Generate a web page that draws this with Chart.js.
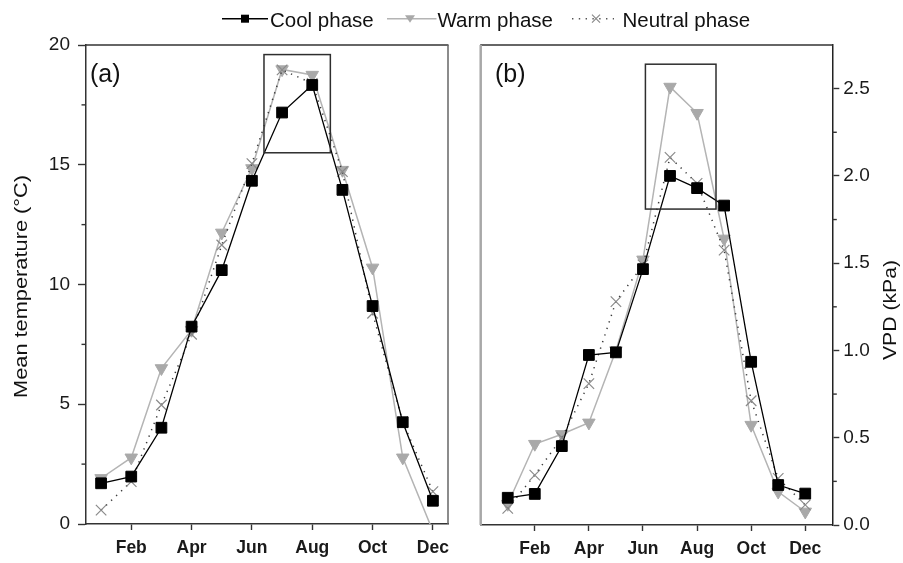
<!DOCTYPE html>
<html>
<head>
<meta charset="utf-8">
<script src="https://cdn.jsdelivr.net/npm/chart.js@4.4.1/dist/chart.umd.min.js"></script>
<style>
  html, body { margin: 0; padding: 0; background: #fff; }
  #wrap { position: relative; width: 903px; height: 563px; overflow: hidden; background: #fff; }
  #ca { position: absolute; left: 0; top: 0; }
  #cb { position: absolute; left: 460px; top: 0; }
  #legend { position: absolute; left: 0; top: 0; }
</style>
</head>
<body>
<div id="wrap">
  <canvas id="ca" width="460" height="563"></canvas>
  <canvas id="cb" width="443" height="563"></canvas>
  <svg id="legend" width="903" height="40" xmlns="http://www.w3.org/2000/svg"></svg>
</div>
<script>
// ---- data ----
const months = [1, 2, 3, 4, 5, 6, 7, 8, 9, 10, 11, 12];
const monthNames = ['Jan', 'Feb', 'Mar', 'Apr', 'May', 'Jun', 'Jul', 'Aug', 'Sep', 'Oct', 'Nov', 'Dec'];
const labeledMonths = [2, 4, 6, 8, 10, 12];
const seriesNames = ['Cool phase', 'Warm phase', 'Neutral phase'];

// (a) mean temperature, °C
const tempCool    = [1.70, 1.98, 4.02, 8.24, 10.6, 14.33, 17.18, 18.33, 13.95, 9.10, 4.25, 0.97];
const tempWarm    = [1.91, 2.77, 6.50, 8.10, 12.16, 14.85, 18.98, 18.75, 14.78, 10.70, 2.77, -0.30];
const tempNeutral = [0.58, 1.77, 4.97, 7.92, 11.65, 15.05, 18.96, 18.40, 14.71, 8.80, 4.27, 1.35];

// (b) vapour pressure deficit, kPa
const vpdCool    = [0.156, 0.178, 0.452, 0.974, 0.989, 1.466, 2.00, 1.93, 1.83, 0.935, 0.229, 0.18];
const vpdWarm    = [0.12, 0.464, 0.52, 0.586, 1.00, 1.52, 2.51, 2.36, 1.64, 0.573, 0.19, 0.076];
const vpdNeutral = [0.095, 0.286, 0.50, 0.81, 1.28, 1.49, 2.106, 1.957, 1.575, 0.712, 0.267, 0.115];

// highlighted summer windows (month range, value range)
const boxA = { x0: 6.4, x1: 8.6, y0: 15.5, y1: 19.6 };
const boxB = { x0: 6.09, x1: 8.70, y0: 1.81, y1: 2.64 };

// ---- styles ----
const FONT = "'Liberation Sans', Arial, Helvetica, sans-serif";
const styles = {
  cool:    { line: '#000000', fill: '#000000' },
  warm:    { line: '#b4b4b4', fill: '#a9a9a9' },
  neutral: { line: '#3a3a3a', fill: '#8a8a8a' }
};

Chart.defaults.font.family = FONT;
Chart.defaults.color = '#1a1a1a';

function pts(values) {
  return months.map((m, i) => ({ x: m, y: values[i] }));
}

function makeDatasets(cool, warm, neutral) {
  return [
    {
      label: seriesNames[0], data: pts(cool), order: 0,
      borderColor: styles.cool.line, borderWidth: 1.3,
      pointStyle: 'rect', pointRadius: 7.6,
      pointBackgroundColor: styles.cool.fill, pointBorderColor: styles.cool.fill, pointBorderWidth: 1,
      tension: 0, clip: 0
    },
    {
      label: seriesNames[1], data: pts(warm), order: 2,
      borderColor: styles.warm.line, borderWidth: 1.5,
      pointStyle: 'triangle', pointRotation: 180, pointRadius: 7.2,
      pointBackgroundColor: styles.warm.fill, pointBorderColor: styles.warm.fill, pointBorderWidth: 1,
      tension: 0, clip: 0
    },
    {
      label: seriesNames[2], data: pts(neutral), order: 1,
      borderColor: styles.neutral.line, borderWidth: 1.5, borderDash: [1.3, 5.6],
      pointStyle: 'crossRot', pointRadius: 7.4,
      pointBackgroundColor: styles.neutral.fill, pointBorderColor: styles.neutral.fill, pointBorderWidth: 1.2,
      tension: 0, clip: 0
    }
  ];
}

// frame, minor ticks, highlight box, panel tag and rotated axis title
function panelPlugin(cfg) {
  return {
    id: 'panelDecor_' + cfg.tag,
    afterDraw(chart) {
      const { ctx, chartArea: a, scales } = chart;
      const xs = scales.x, ys = scales.y;
      ctx.save();
      // frame sides not drawn by the axes
      cfg.sides.forEach(s => {
        ctx.beginPath();
        ctx.strokeStyle = s.color;
        ctx.lineWidth = s.width;
        if (s.side === 'top') { ctx.moveTo(a.left - 0.5, a.top); ctx.lineTo(a.right + 0.5, a.top); }
        if (s.side === 'right') { ctx.moveTo(a.right, a.top); ctx.lineTo(a.right, a.bottom); }
        if (s.side === 'left') { ctx.moveTo(a.left, a.top); ctx.lineTo(a.left, a.bottom); }
        ctx.stroke();
      });
      // minor ticks
      ctx.strokeStyle = '#333';
      ctx.lineWidth = 1.4;
      ys.ticks.forEach(t => {
        if (cfg.isMajor(t.value) || t.value >= ys.max) return;
        const py = ys.getPixelForValue(t.value);
        ctx.beginPath();
        if (cfg.yRight) { ctx.moveTo(a.right, py); ctx.lineTo(a.right + 4.5, py); }
        else { ctx.moveTo(a.left, py); ctx.lineTo(a.left - 4.5, py); }
        ctx.stroke();
      });
      // highlighted window
      const b = cfg.box;
      const bx0 = xs.getPixelForValue(b.x0), bx1 = xs.getPixelForValue(b.x1);
      const by0 = ys.getPixelForValue(b.y0), by1 = ys.getPixelForValue(b.y1);
      ctx.strokeStyle = '#2e2e2e';
      ctx.lineWidth = 1.5;
      ctx.strokeRect(bx0, by1, bx1 - bx0, by0 - by1);
      // panel tag
      ctx.fillStyle = '#111';
      ctx.font = '25px ' + FONT;
      ctx.textAlign = 'left';
      ctx.textBaseline = 'alphabetic';
      ctx.fillText(cfg.tag, cfg.tagX, cfg.tagY);
      // axis title, reading upward
      ctx.font = cfg.title.size + 'px ' + FONT;
      const w = ctx.measureText(cfg.title.text).width;
      const stretch = cfg.title.length / w;
      ctx.translate(cfg.title.baseX, cfg.title.centerY);
      ctx.rotate(-Math.PI / 2);
      ctx.scale(stretch, 1);
      ctx.textAlign = 'center';
      ctx.fillText(cfg.title.text, 0, 0);
      ctx.restore();
    }
  };
}

const monthTickCb = v => monthNames[Math.round(v) - 1] || '';

// ---- panel (a) ----
const isMajorA = v => Math.abs(v % 5) < 1e-6;
new Chart(document.getElementById('ca'), {
  type: 'line',
  data: { datasets: makeDatasets(tempCool, tempWarm, tempNeutral) },
  options: {
    responsive: false, animation: false, events: [],
    layout: { padding: { top: 45, right: 12, left: 0, bottom: 0 } },
    plugins: { legend: { display: false }, tooltip: { enabled: false } },
    scales: {
      x: {
        type: 'linear', min: 0.5, max: 12.5,
        afterBuildTicks: s => { s.ticks = labeledMonths.map(v => ({ value: v })); },
        afterFit: s => { s.height = 39; },
        border: { display: true, color: '#333', width: 1.5 },
        grid: { drawOnChartArea: false, drawTicks: true, tickLength: 6, tickColor: '#333', tickWidth: 1.4 },
        ticks: { callback: monthTickCb, autoSkip: false, maxRotation: 0, padding: 8,
                 font: { size: 17.5, weight: 'bold' }, color: '#1a1a1a' }
      },
      y: {
        type: 'linear', min: 0, max: 20,
        afterFit: s => { s.width = 86; },
        border: { display: true, color: '#333', width: 1.5 },
        grid: { drawOnChartArea: false, drawTicks: true, tickLength: 8, tickWidth: 1.4,
                tickColor: c => (c.tick && isMajorA(c.tick.value)) ? '#333' : 'rgba(0,0,0,0)' },
        ticks: { stepSize: 2.5, autoSkip: false, padding: 8, font: { size: 19 }, color: '#1a1a1a',
                 callback: v => isMajorA(v) ? String(v) : '' }
      }
    }
  },
  plugins: [panelPlugin({
    tag: '(a)', tagX: 90, tagY: 81.5, yRight: false, isMajor: isMajorA, box: boxA,
    sides: [{ side: 'top', color: '#333', width: 1.5 }, { side: 'right', color: '#666', width: 1.5 }],
    title: { text: 'Mean temperature (\u00B0C)', size: 18, length: 223, baseX: 27, centerY: 286.5 }
  })]
});

// ---- panel (b) ----
const isMajorB = v => Math.abs(v * 2 - Math.round(v * 2)) < 1e-6;
new Chart(document.getElementById('cb'), {
  type: 'line',
  data: { datasets: makeDatasets(vpdCool, vpdWarm, vpdNeutral) },
  options: {
    responsive: false, animation: false, events: [],
    layout: { padding: { top: 45, right: 0, left: 20.7, bottom: 0 } },
    plugins: { legend: { display: false }, tooltip: { enabled: false } },
    scales: {
      x: {
        type: 'linear', min: 0, max: 13,
        afterBuildTicks: s => { s.ticks = labeledMonths.map(v => ({ value: v })); },
        afterFit: s => { s.height = 38; },
        border: { display: true, color: '#333', width: 1.5 },
        grid: { drawOnChartArea: false, drawTicks: true, tickLength: 6, tickColor: '#333', tickWidth: 1.4 },
        ticks: { callback: monthTickCb, autoSkip: false, maxRotation: 0, padding: 8,
                 font: { size: 17.5, weight: 'bold' }, color: '#1a1a1a' }
      },
      y: {
        type: 'linear', position: 'right', min: 0, max: 2.75,
        afterFit: s => { s.width = 70.7; },
        border: { display: true, color: '#222', width: 1.5 },
        grid: { drawOnChartArea: false, drawTicks: true, tickLength: 7, tickWidth: 1.4,
                tickColor: c => (c.tick && isMajorB(c.tick.value)) ? '#333' : 'rgba(0,0,0,0)' },
        ticks: { stepSize: 0.25, autoSkip: false, padding: 4, font: { size: 19 }, color: '#1a1a1a',
                 callback: v => isMajorB(v) ? v.toFixed(1) : '' }
      }
    }
  },
  plugins: [panelPlugin({
    tag: '(b)', tagX: 35, tagY: 82, yRight: true, isMajor: isMajorB, box: boxB,
    sides: [{ side: 'top', color: '#333', width: 1.5 }, { side: 'left', color: '#a8a8a8', width: 2.5 }],
    title: { text: 'VPD (kPa)', size: 18, length: 100, baseX: 436, centerY: 310 }
  })]
});

// ---- legend ----
(function buildLegend() {
  const svg = document.getElementById('legend');
  const NS = 'http://www.w3.org/2000/svg';
  const el = (name, attrs) => {
    const e = document.createElementNS(NS, name);
    Object.keys(attrs).forEach(k => e.setAttribute(k, attrs[k]));
    svg.appendChild(e);
    return e;
  };
  const ly = 18.7;
  const entries = [
    { name: seriesNames[0], x0: 222, x1: 268, mx: 245, textX: 270, kind: 'cool' },
    { name: seriesNames[1], x0: 387, x1: 436.5, mx: 410, textX: 437.5, kind: 'warm' },
    { name: seriesNames[2], x0: 572, x1: 614, mx: 596, textX: 622.5, kind: 'neutral' }
  ];
  entries.forEach(e => {
    const st = styles[e.kind];
    if (e.kind === 'neutral') {
      el('line', { x1: e.x0, y1: ly, x2: e.x1, y2: ly, stroke: '#555', 'stroke-width': 1.5, 'stroke-dasharray': '1.4 5.4' });
      el('path', { d: `M${e.mx - 4},${ly - 4} L${e.mx + 4},${ly + 4} M${e.mx - 4},${ly + 4} L${e.mx + 4},${ly - 4}`,
                   stroke: st.fill, 'stroke-width': 1.2, fill: 'none' });
    } else {
      el('line', { x1: e.x0, y1: ly, x2: e.x1, y2: ly, stroke: st.line, 'stroke-width': 1.5 });
      if (e.kind === 'cool') {
        el('rect', { x: e.mx - 4, y: ly - 4, width: 8, height: 8, fill: st.fill });
      } else {
        el('polygon', { points: `${e.mx - 5},${ly - 3.5} ${e.mx + 5},${ly - 3.5} ${e.mx},${ly + 4}`, fill: st.fill });
      }
    }
    const t = el('text', { x: e.textX, y: 26.5, fill: '#111', 'font-family': FONT, 'font-size': 20.5 });
    t.textContent = e.name;
  });
})();
</script>
</body>
</html>
